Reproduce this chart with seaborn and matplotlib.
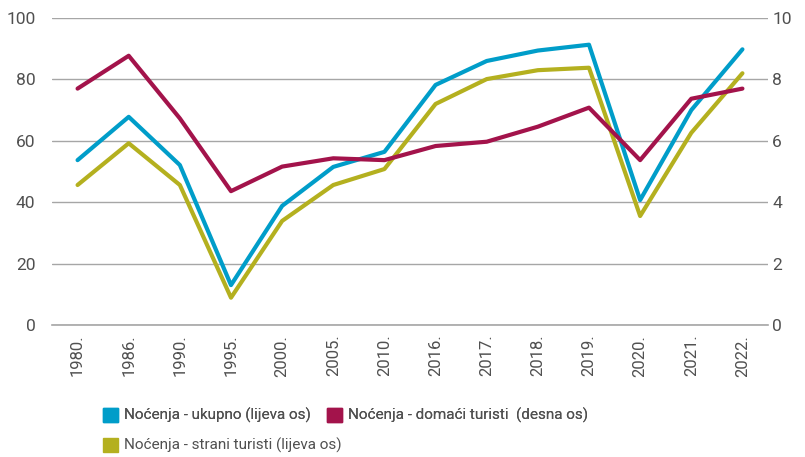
import matplotlib
matplotlib.use("Agg")
import matplotlib.pyplot as plt
from matplotlib.patches import Patch
from matplotlib.ticker import FixedLocator
import seaborn as sns
import pandas as pd

years = ["1980.", "1986.", "1990.", "1995.", "2000.", "2005.", "2010.",
         "2016.", "2017.", "2018.", "2019.", "2020.", "2021.", "2022."]
ukupno = [53.7, 67.8, 52.1, 13.0, 38.8, 51.5, 56.4, 78.2, 86.0, 89.4, 91.3, 40.7, 70.0, 89.8]
strani = [45.6, 59.2, 45.6, 8.9, 33.9, 45.6, 50.8, 72.0, 80.1, 83.0, 83.8, 35.5, 62.6, 82.0]
domaci = [7.70, 8.77, 6.73, 4.36, 5.16, 5.43, 5.37, 5.83, 5.97, 6.46, 7.08, 5.37, 7.37, 7.70]

lab_uk = "Noćenja - ukupno (lijeva os)"
lab_dom = "Noćenja - domaći turisti  (desna os)"
lab_str = "Noćenja - strani turisti (lijeva os)"

c_blue = "#009DC9"
c_red = "#A3134B"
c_olive = "#B4B01F"
grid_c = "#A6A6A6"
txt_c = "#505050"

sns.set_style("white")
plt.rcParams["font.family"] = ["Roboto", "DejaVu Sans"]

df = pd.DataFrame({"year": years, "uk": ukupno, "st": strani, "dom": domaci})
df["x"] = range(len(years))

fig = plt.figure(figsize=(8.05, 4.57), dpi=100)
ax = fig.add_axes([52 / 805, 1 - 325 / 457, 716 / 805, 307 / 457])
ax2 = ax.twinx()

sns.lineplot(data=df, x="x", y="uk", ax=ax, color=c_blue, linewidth=3)
sns.lineplot(data=df, x="x", y="st", ax=ax, color=c_olive, linewidth=3)
sns.lineplot(data=df, x="x", y="dom", ax=ax2, color=c_red, linewidth=3)

ax.set_xlim(-0.5, len(years) - 0.5)
ax.set_ylim(0, 100)
ax2.set_ylim(0, 10)
ax.set_yticks(range(0, 101, 20))
ax2.set_yticks(range(0, 11, 2))
ax.yaxis.grid(True, color=grid_c, linewidth=1)
ax.set_axisbelow(True)
for a in (ax, ax2):
    for s in ("top", "left", "right"):
        a.spines[s].set_visible(False)
    a.set_xlabel("")
    a.set_ylabel("")
ax2.spines["bottom"].set_visible(False)
ax.spines["bottom"].set_color(grid_c)
ax.spines["bottom"].set_linewidth(1.2)

ax.set_xticks(df["x"])
ax.set_xticklabels(years, rotation=90, fontsize=12, color=txt_c)
ax.xaxis.set_minor_locator(FixedLocator([i - 0.5 for i in range(len(years) + 1)]))
ax.tick_params(axis="x", which="major", length=0, pad=7)
ax.tick_params(axis="x", which="minor", length=5, color=grid_c, width=1.2, direction="out")
ax.tick_params(axis="y", length=0, labelsize=12.5, labelcolor=txt_c, pad=12)
ax2.tick_params(axis="y", length=0, labelsize=12.5, labelcolor=txt_c, pad=3)

leg_kw = dict(frameon=False, loc="upper left", fontsize=11, labelcolor=txt_c,
              handlelength=1.0, handleheight=1.0, handletextpad=0.4,
              borderaxespad=0, borderpad=0)
leg1 = fig.legend([Patch(color=c_blue), Patch(color=c_red)], [lab_uk, lab_dom],
                  ncol=2, columnspacing=1.0,
                  bbox_to_anchor=(103 / 805, 1 - 408 / 457), **leg_kw)
fig.add_artist(leg1)
fig.legend([Patch(color=c_olive)], [lab_str],
           bbox_to_anchor=(103 / 805, 1 - 438 / 457), **leg_kw)

fig.savefig("out.png", dpi=100)
